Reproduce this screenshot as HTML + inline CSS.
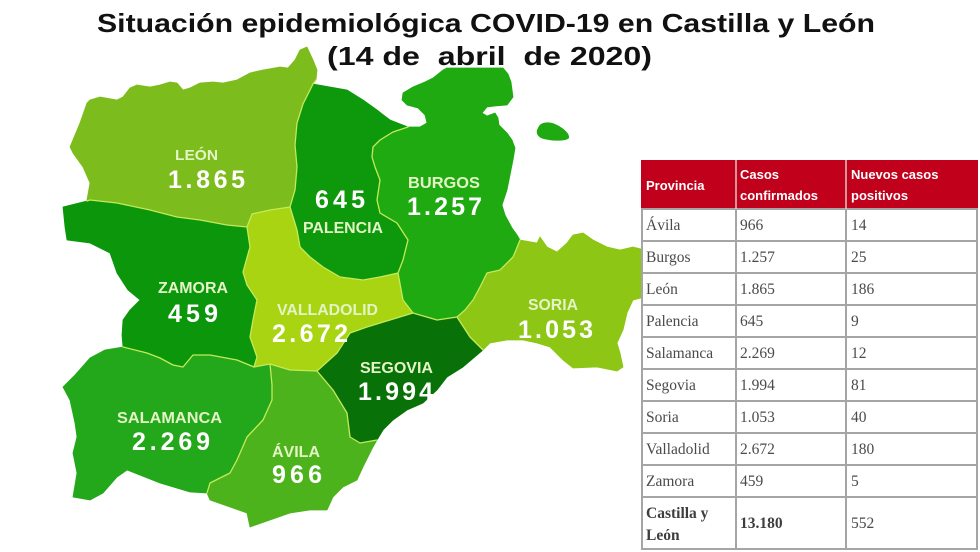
<!DOCTYPE html>
<html><head><meta charset="utf-8"><style>
html,body{margin:0;padding:0;background:#fff;}
svg{display:block;}
</style></head><body>
<svg width="980" height="552" viewBox="0 0 980 552" xmlns="http://www.w3.org/2000/svg">
<rect width="980" height="552" fill="#fff"/>
<g stroke-linejoin="round" stroke-width="0.8">
<!-- León -->
<path fill="#7cbc1c" stroke="#7cbc1c" d="M317,70 L313,60 L307,47 L300,50 L295,60 L288,68 L280,67 L263,70 L250,73 L237,80 L223,83 L213,82 L200,83 L190,88 L183,90 L177,83 L170,82 L160,85 L150,87 L137,85 L130,88 L123,97 L117,100 L100,97 L90,100 L87,103 L80,123 L70,147 L73,153 L83,167 L90,183 L87,200 L90,200 L117,203 L150,210 L177,217 L200,220 L227,225 L247,227 L252,214 L270,210 L290,207 L295,190 L297,167 L295,145 L297,123 L303,104 L310,90 L313,84 L316,80 Z"/>
<!-- Palencia -->
<path fill="#0e990c" stroke="#0e990c" d="M313,84 L330,87 L347,90 L363,100 L377,110 L390,120 L408,127 L393,132 L380,140 L373,147 L372,157 L375,167 L380,180 L377,200 L380,213 L397,223 L408,240 L403,260 L398,273 L380,277 L363,280 L340,277 L323,267 L310,257 L300,247 L297,230 L290,207 L295,190 L297,167 L295,145 L297,123 L303,104 L310,90 Z"/>
<!-- Burgos -->
<path fill="#1faa12" stroke="#1faa12" d="M403,93 L413,87 L425,82 L433,78 L443,70 L447,68 L503,68 L508,74 L511,82 L513,97 L507,105 L495,106 L487,107 L482,113 L487,116 L495,113 L498,118 L499,125 L507,133 L512,140 L515,148 L513,160 L510,175 L507,190 L502,205 L505,215 L512,228 L517,235 L520,240 L516,250 L513,257 L500,270 L487,273 L480,287 L473,300 L465,310 L457,317 L437,320 L413,313 L403,300 L398,273 L403,260 L408,240 L397,223 L380,213 L377,200 L380,180 L375,167 L372,157 L373,147 L380,140 L393,132 L408,127 L420,127 L427,123 L425,115 L418,108 L407,105 L402,100 Z"/>
<path fill="#1faa12" d="M538,128 C540,122 548,121 555,124 C562,127 570,133 569,138 C566,142 548,141 541,138 C536,135 536,131 538,128 Z"/>
<!-- Zamora -->
<path fill="#0c960c" stroke="#0c960c" d="M87,201 L63,207 L65,227 L67,240 L90,243 L110,253 L117,273 L128,290 L140,300 L130,310 L123,320 L122,335 L123,347 L147,353 L160,358 L173,365 L183,367 L193,355 L210,355 L237,360 L254,367 L257,357 L250,337 L253,320 L257,300 L247,285 L243,272 L250,247 L247,227 L227,225 L200,220 L177,217 L150,210 L117,203 L90,200 Z"/>
<!-- Valladolid -->
<path fill="#a9d412" stroke="#a9d412" d="M247,227 L252,214 L270,210 L290,207 L297,230 L300,247 L310,257 L323,267 L340,277 L363,280 L380,277 L398,273 L403,300 L413,313 L390,320 L367,327 L350,333 L337,353 L317,371 L290,370 L270,364 L254,367 L257,357 L250,337 L253,320 L257,300 L247,285 L243,272 L250,247 Z"/>
<!-- Salamanca -->
<path fill="#22a81a" stroke="#22a81a" d="M63,387 L75,375 L90,358 L105,350 L123,347 L147,353 L160,358 L173,365 L183,367 L193,355 L210,355 L237,360 L254,367 L270,364 L272,385 L272,400 L263,420 L247,437 L237,460 L230,473 L210,483 L207,493 L190,492 L160,483 L127,470 L117,477 L103,493 L90,500 L73,497 L77,473 L73,453 L77,437 L75,423 L70,400 Z"/>
<!-- Ávila -->
<path fill="#4db31c" stroke="#4db31c" d="M270,364 L290,370 L317,371 L333,390 L347,413 L350,437 L360,443 L377,440 L373,447 L363,467 L357,480 L343,487 L333,497 L327,510 L310,510 L290,513 L270,520 L250,527 L247,513 L230,507 L210,500 L207,493 L210,483 L230,473 L237,460 L247,437 L263,420 L272,400 L272,385 Z"/>
<!-- Segovia -->
<path fill="#087208" stroke="#087208" d="M317,371 L337,353 L350,333 L367,327 L390,320 L413,313 L437,320 L457,317 L470,337 L483,350 L463,367 L447,377 L437,390 L423,403 L407,410 L393,420 L383,430 L377,440 L360,443 L350,437 L347,413 L333,390 Z"/>
<!-- Soria -->
<path fill="#8dc614" stroke="#8dc614" d="M520,240 L537,243 L540,237 L547,247 L557,252 L567,243 L573,235 L583,233 L593,240 L607,247 L620,250 L633,247 L645,250 L645,297 L633,300 L627,313 L623,330 L617,343 L620,353 L623,367 L617,371 L597,367 L573,368 L563,360 L550,347 L537,343 L523,340 L507,340 L490,343 L483,350 L470,337 L457,317 L465,310 L473,300 L480,287 L487,273 L500,270 L513,257 L516,250 Z"/>
</g>
<!-- internal borders -->
<g fill="none" stroke="#c4ea5a" stroke-width="1.3" stroke-linejoin="round" stroke-linecap="round">
<polyline points="87,201 90,200 117,203 150,210 177,217 200,220 227,225 247,227 252,214 270,210 290,207"/>
<polyline points="316,80 313,84 310,90 303,104 297,123 295,145 297,167 295,190 290,207 297,230 300,247 310,257 323,267 340,277 363,280 380,277 398,273"/>
<polyline points="408,127 393,132 380,140 373,147 372,157 375,167 380,180 377,200 380,213 397,223 408,240 403,260 398,273 403,300 413,313"/>
<polyline points="247,227 250,247 243,272 247,285 257,300 253,320 250,337 257,357 254,367 270,364 290,370 317,371"/>
<polyline points="123,347 147,353 160,358 173,365 183,367 193,355 210,355 237,360 254,367"/>
<polyline points="270,364 272,385 272,400 263,420 247,437 237,460 230,473 210,483 207,493"/>
<polyline points="317,371 337,353 350,333 367,327 390,320 413,313 437,320 457,317 470,337 483,350"/>
<polyline points="317,371 333,390 347,413 350,437 360,443 377,440"/>
<polyline points="520,240 516,250 513,257 500,270 487,273 480,287 473,300 465,310 457,317"/>
</g>
<!-- map labels -->
<g font-family="Liberation Sans, Arial, sans-serif" font-weight="bold" fill="#e4f4c6">
<text x="175" y="160" font-size="15" textLength="43" lengthAdjust="spacingAndGlyphs">LEÓN</text>
<text x="303" y="233" font-size="16" textLength="80" lengthAdjust="spacingAndGlyphs">PALENCIA</text>
<text x="408" y="188" font-size="16" textLength="72" lengthAdjust="spacingAndGlyphs">BURGOS</text>
<text x="158" y="293" font-size="16" textLength="70" lengthAdjust="spacingAndGlyphs">ZAMORA</text>
<text x="277" y="315" font-size="16" textLength="101" lengthAdjust="spacingAndGlyphs">VALLADOLID</text>
<text x="360" y="373" font-size="16" textLength="73" lengthAdjust="spacingAndGlyphs">SEGOVIA</text>
<text x="528" y="310" font-size="16" textLength="50" lengthAdjust="spacingAndGlyphs">SORIA</text>
<text x="117" y="423" font-size="16" textLength="105" lengthAdjust="spacingAndGlyphs">SALAMANCA</text>
<text x="272" y="457" font-size="16" textLength="48" lengthAdjust="spacingAndGlyphs">ÁVILA</text>
</g>
<g font-family="Liberation Sans, Arial, sans-serif" font-weight="bold" fill="#ffffff" font-size="25">
<text x="168" y="188" textLength="77" lengthAdjust="spacing">1.865</text>
<text x="315" y="208" textLength="50" lengthAdjust="spacing">645</text>
<text x="407" y="215" textLength="75" lengthAdjust="spacing">1.257</text>
<text x="168" y="322" textLength="50" lengthAdjust="spacing">459</text>
<text x="272" y="342" textLength="76" lengthAdjust="spacing">2.672</text>
<text x="358" y="400" textLength="75" lengthAdjust="spacing">1.994</text>
<text x="518" y="338" textLength="75" lengthAdjust="spacing">1.053</text>
<text x="132" y="450" textLength="78" lengthAdjust="spacing">2.269</text>
<text x="272" y="483" textLength="50" lengthAdjust="spacing">966</text>
</g>
<!-- title -->
<g font-family="Liberation Sans, Arial, sans-serif" font-weight="bold" fill="#111" font-size="26" style="white-space:pre">
<text x="97" y="32" textLength="778" lengthAdjust="spacingAndGlyphs">Situación epidemiológica COVID-19 en Castilla y León</text>
<text x="327" y="65" textLength="325" lengthAdjust="spacingAndGlyphs" xml:space="preserve">(14 de  abril  de 2020)</text>
</g>
<!-- table -->
<rect x="641" y="160" width="337" height="390" fill="#fff"/>
<rect x="641" y="160" width="337" height="49" fill="#c1001b"/>
<g stroke="#a5a5a5" stroke-width="2" fill="none">
<line x1="642" y1="209" x2="642" y2="550"/>
<line x1="977" y1="209" x2="977" y2="550"/>
<line x1="736" y1="209" x2="736" y2="550"/>
<line x1="846" y1="209" x2="846" y2="550"/>
<line x1="641" y1="209" x2="978" y2="209"/>
<line x1="641" y1="241" x2="978" y2="241"/>
<line x1="641" y1="273" x2="978" y2="273"/>
<line x1="641" y1="305" x2="978" y2="305"/>
<line x1="641" y1="337" x2="978" y2="337"/>
<line x1="641" y1="369" x2="978" y2="369"/>
<line x1="641" y1="401" x2="978" y2="401"/>
<line x1="641" y1="433" x2="978" y2="433"/>
<line x1="641" y1="465" x2="978" y2="465"/>
<line x1="641" y1="497" x2="978" y2="497"/>
<line x1="641" y1="549" x2="978" y2="549"/>
</g>
<g stroke="#e2c4c4" stroke-width="1.5">
<line x1="736" y1="160" x2="736" y2="209"/>
<line x1="846" y1="160" x2="846" y2="209"/>
</g>
<g font-family="Liberation Sans, Arial, sans-serif" font-weight="bold" fill="#fff" font-size="13">
<text x="646" y="190">Provincia</text>
<text x="740" y="179">Casos</text>
<text x="740" y="200">confirmados</text>
<text x="851" y="179">Nuevos casos</text>
<text x="851" y="200">positivos</text>
</g>
<g font-family="Liberation Serif, 'DejaVu Serif', serif" fill="#4a4a4a" font-size="15.5">
<text x="646" y="230">Ávila</text><text x="740" y="230">966</text><text x="851" y="230">14</text>
<text x="646" y="262">Burgos</text><text x="740" y="262">1.257</text><text x="851" y="262">25</text>
<text x="646" y="294">León</text><text x="740" y="294">1.865</text><text x="851" y="294">186</text>
<text x="646" y="326">Palencia</text><text x="740" y="326">645</text><text x="851" y="326">9</text>
<text x="646" y="358">Salamanca</text><text x="740" y="358">2.269</text><text x="851" y="358">12</text>
<text x="646" y="390">Segovia</text><text x="740" y="390">1.994</text><text x="851" y="390">81</text>
<text x="646" y="422">Soria</text><text x="740" y="422">1.053</text><text x="851" y="422">40</text>
<text x="646" y="454">Valladolid</text><text x="740" y="454">2.672</text><text x="851" y="454">180</text>
<text x="646" y="486">Zamora</text><text x="740" y="486">459</text><text x="851" y="486">5</text>
<text x="646" y="518" font-weight="bold" fill="#3e3e3e">Castilla y</text>
<text x="646" y="540" font-weight="bold" fill="#3e3e3e">León</text>
<text x="740" y="528" font-weight="bold" fill="#3e3e3e">13.180</text>
<text x="851" y="528">552</text>
</g>
</svg>
</body></html>
